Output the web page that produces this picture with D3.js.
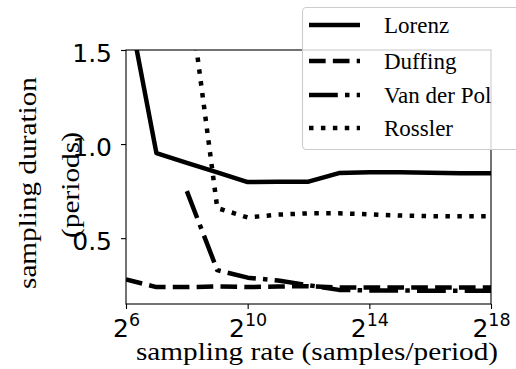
<!DOCTYPE html>
<html>
<head>
<meta charset="utf-8">
<script src="https://cdn.jsdelivr.net/npm/d3@7"></script>
<style>
  body { margin: 0; background: #fff; }
  svg { display: block; }
</style>
</head>
<body>
<div id="chart-area"></div>
<script>
const W = 516
const H = 369
const PLOT = { LEFT: 126, RIGHT: 491, TOP: 50, BOTTOM: 304 }

// sampling rate exponents (rate = 2^exp)
const exponents = [6, 7, 8, 9, 10, 11, 12, 13, 14, 15, 16, 17, 18]

// series values (sampling duration in periods), null = no value
const lorenz   = [1.80, 0.952, 0.90, 0.85, 0.798, 0.80, 0.80, 0.846, 0.85, 0.85, 0.847, 0.845, 0.845]
const duffing  = [0.28, 0.24, 0.24, 0.243, 0.24, 0.243, 0.245, 0.238, 0.238, 0.238, 0.238, 0.238, 0.238]
const vanDerPol = [null, null, 0.75, 0.33, 0.29, 0.275, 0.25, 0.225, 0.222, 0.222, 0.22, 0.22, 0.22]
const rossler  = [null, null, 1.90, 0.66, 0.61, 0.625, 0.632, 0.632, 0.627, 0.62, 0.617, 0.617, 0.617]

const seriesNames = ["Lorenz", "Duffing", "Van der Pol", "Rossler"]
const seriesValues = [lorenz, duffing, vanDerPol, rossler]

const xTickExps = [6, 10, 14, 18]
const yTicks = [0.5, 1.0, 1.5]

const LW = 4.5
const dashes = [
  null,
  [3.7 * LW, 1.6 * LW].join(","),
  [6.4 * LW, 1.6 * LW, 1 * LW, 1.6 * LW].join(","),
  [1 * LW, 1.65 * LW].join(",")
]

const svg = d3.select("#chart-area").append("svg")
  .attr("width", W)
  .attr("height", H)

const x = d3.scaleLog()
  .base(2)
  .domain([Math.pow(2, 6), Math.pow(2, 18)])
  .range([PLOT.LEFT, PLOT.RIGHT])

const y = d3.scaleLinear()
  .domain([0.15, 1.5])
  .range([PLOT.BOTTOM, PLOT.TOP])

svg.append("clipPath")
  .attr("id", "plot-clip")
  .append("rect")
  .attr("x", PLOT.LEFT)
  .attr("y", PLOT.TOP)
  .attr("width", PLOT.RIGHT - PLOT.LEFT)
  .attr("height", PLOT.BOTTOM - PLOT.TOP)

// lines
const line = d3.line()
  .defined(d => d.v !== null)
  .x(d => x(Math.pow(2, d.e)))
  .y(d => y(d.v))

const lines = svg.append("g").attr("clip-path", "url(#plot-clip)")
seriesValues.forEach((vals, i) => {
  const data = exponents.map((e, j) => ({ e: e, v: vals[j] }))
  lines.append("path")
    .datum(data)
    .attr("d", line)
    .attr("fill", "none")
    .attr("stroke", "#000")
    .attr("stroke-width", LW)
    .attr("stroke-linejoin", "round")
    .attr("stroke-dasharray", dashes[i])
})

// spines
svg.append("rect")
  .attr("x", PLOT.LEFT)
  .attr("y", PLOT.TOP)
  .attr("width", PLOT.RIGHT - PLOT.LEFT)
  .attr("height", PLOT.BOTTOM - PLOT.TOP)
  .attr("fill", "none")
  .attr("stroke", "#000")
  .attr("stroke-width", 1.1)

// y axis
const yAxis = svg.append("g")
  .attr("transform", `translate(${PLOT.LEFT}, 0)`)
  .call(d3.axisLeft(y).tickValues(yTicks).tickFormat(d3.format(".1f")).tickSize(5).tickPadding(9))
yAxis.select(".domain").remove()
yAxis.selectAll("line").attr("stroke-width", 1.1)
yAxis.selectAll("text")
  .attr("dy", "0.44em")
  .attr("font-family", "DejaVu Sans")
  .attr("font-size", "25px")
  .attr("fill", "#000")

// x axis
const xAxis = svg.append("g")
  .attr("transform", `translate(0, ${PLOT.BOTTOM})`)
  .call(d3.axisBottom(x).tickValues(xTickExps.map(e => Math.pow(2, e))).tickSize(5).tickFormat(""))
xAxis.select(".domain").remove()
xAxis.selectAll("line").attr("stroke-width", 1.1)
xAxis.selectAll(".tick text").remove()
xAxis.selectAll(".tick").each(function(d) {
  const t = d3.select(this).append("text")
    .attr("y", 33)
    .attr("text-anchor", "middle")
    .attr("font-family", "DejaVu Sans")
    .attr("fill", "#000")
  t.append("tspan").attr("font-size", "25px").text("2")
  t.append("tspan").attr("font-size", "17.5px").attr("dy", -11).text(Math.round(Math.log2(d)))
})

// axis labels
svg.append("text")
  .attr("x", 317)
  .attr("y", 360)
  .attr("text-anchor", "middle")
  .attr("font-family", "Liberation Serif")
  .attr("font-size", "26px")
  .attr("textLength", 362)
  .attr("lengthAdjust", "spacingAndGlyphs")
  .text("sampling rate (samples/period)")

svg.append("text")
  .attr("transform", "translate(36, 183) rotate(-90)")
  .attr("text-anchor", "middle")
  .attr("font-family", "Liberation Serif")
  .attr("font-size", "26px")
  .attr("textLength", 212)
  .attr("lengthAdjust", "spacingAndGlyphs")
  .text("sampling duration")

svg.append("text")
  .attr("transform", "translate(79, 185) rotate(-90)")
  .attr("text-anchor", "middle")
  .attr("font-family", "Liberation Serif")
  .attr("font-size", "26px")
  .attr("textLength", 106)
  .attr("lengthAdjust", "spacingAndGlyphs")
  .text("(periods)")

// legend
const legend = svg.append("g")
legend.append("rect")
  .attr("x", 302.5)
  .attr("y", 7.5)
  .attr("width", 240)
  .attr("height", 142)
  .attr("rx", 4)
  .attr("fill", "#fff")
  .attr("fill-opacity", 0.8)
  .attr("stroke", "#cccccc")
  .attr("stroke-width", 1.1)

const rowY = [25, 61, 95, 128]
seriesNames.forEach((name, i) => {
  legend.append("line")
    .attr("x1", 309).attr("x2", 360)
    .attr("y1", rowY[i]).attr("y2", rowY[i])
    .attr("stroke", "#000")
    .attr("stroke-width", LW)
    .attr("stroke-dasharray", dashes[i])
  legend.append("text")
    .attr("x", 384)
    .attr("y", rowY[i] + 7.5)
    .attr("font-family", "Liberation Serif")
    .attr("font-size", "23px")
    .text(name)
})
</script>
</body>
</html>
